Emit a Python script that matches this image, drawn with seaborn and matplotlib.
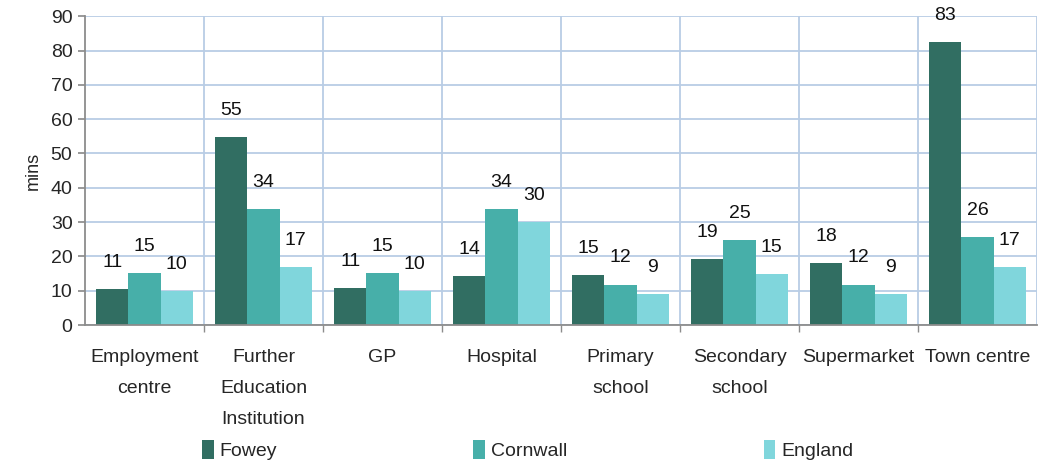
import matplotlib
matplotlib.use('Agg')
import matplotlib.pyplot as plt
import seaborn as sns
import pandas as pd
import numpy as np

# chart data
categories = ['Employment\ncentre', 'Further\nEducation\nInstitution', 'GP', 'Hospital',
              'Primary\nschool', 'Secondary\nschool', 'Supermarket', 'Town centre']
areas = ['Fowey', 'Cornwall', 'England']
fowey = [10.6, 54.7, 10.9, 14.2, 14.6, 19.2, 18.2, 82.6]
cornwall = [15.1, 33.8, 15.1, 33.7, 11.8, 24.8, 11.8, 25.7]
england = [10.0, 16.9, 10.0, 30.0, 9.0, 15.0, 9.0, 16.8]
colors = ['#316E62', '#47AFA9', '#80D6DC']

df = pd.DataFrame({
    'place': categories * 3,
    'area': np.repeat(areas, len(categories)),
    'mins': fowey + cornwall + england,
})

sns.set_theme(style='white')
plt.rcParams['font.family'] = ['Liberation Sans', 'DejaVu Sans']

fig = plt.figure(figsize=(10.49, 4.63), dpi=100)
ax = fig.add_axes([0.081, 0.298, 0.9076, 0.667])

sns.barplot(data=df, x='place', y='mins', hue='area', palette=colors,
            saturation=1, width=0.81, linewidth=0, ax=ax, legend=True)

for cont in ax.containers:
    ax.bar_label(cont, fmt='%.0f', padding=13, fontsize=14, color='#111111')

ax.set_ylim(0, 90)
ax.set_xlim(-0.5, len(categories) - 0.5)
ax.set_yticks(range(0, 91, 10))
ax.set_xlabel('')
ax.set_ylabel('mins', fontsize=13, labelpad=6)

grid_col = '#B9CDE5'
ax.set_axisbelow(True)
ax.yaxis.grid(True, color=grid_col, linewidth=1.3)
ax.set_xticks(np.arange(0.5, len(categories) - 0.5, 1), minor=True)
ax.xaxis.grid(True, which='minor', color=grid_col, linewidth=1.3)
ax.axvline(len(categories) - 0.5, color=grid_col, linewidth=1.3, zorder=0)

for side in ['top', 'right']:
    ax.spines[side].set_visible(False)
for side in ['left', 'bottom']:
    ax.spines[side].set_color('#8C8C8C')
    ax.spines[side].set_linewidth(1.3)

ax.tick_params(axis='y', labelsize=14, length=5, color='#8C8C8C', left=True, pad=4)
ax.tick_params(axis='x', which='major', labelsize=14, length=0, pad=17)
ax.tick_params(axis='x', which='minor', length=5, color='#8C8C8C', bottom=True)
for t in ax.get_xticklabels():
    t.set_linespacing(2.1)

handles, labels = ax.get_legend_handles_labels()
ax.get_legend().remove()
fig.legend(handles, labels, loc='center', bbox_to_anchor=(0.503, 0.028), ncol=3,
           frameon=False, fontsize=14, handlelength=0.6, handleheight=1.1,
           handletextpad=0.3, columnspacing=10.1)

fig.savefig('out.png', dpi=100)
